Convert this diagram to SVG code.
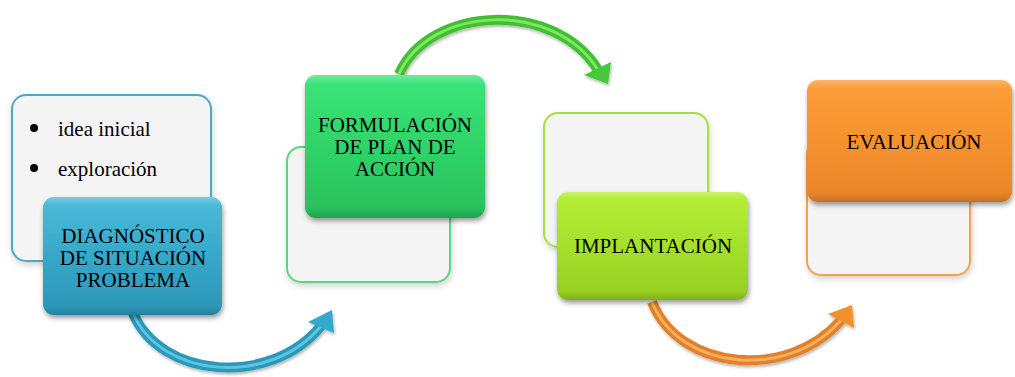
<svg xmlns="http://www.w3.org/2000/svg" width="1015" height="377" viewBox="0 0 1015 377">
<style>
.back{fill:#f4f4f4;stroke-width:2}
.title{font-family:'Liberation Serif','DejaVu Serif',serif;font-size:21px;fill:#000;text-anchor:middle}
.item{font-family:'Liberation Serif','DejaVu Serif',serif;font-size:21px;fill:#000}
.shine{fill:url(#shine)}
</style>
<defs>
<filter id="sh" x="-20%" y="-20%" width="140%" height="150%"><feDropShadow dx="1" dy="3" stdDeviation="2.5" flood-color="#000" flood-opacity="0.4"/></filter>
<filter id="shl" x="-20%" y="-20%" width="140%" height="150%"><feDropShadow dx="1" dy="3" stdDeviation="3" flood-color="#000" flood-opacity="0.18"/></filter>
<filter id="sha" x="-20%" y="-20%" width="140%" height="150%"><feDropShadow dx="1" dy="2" stdDeviation="1.5" flood-color="#000" flood-opacity="0.3"/></filter>
<linearGradient id="gBlue" x1="0" y1="0" x2="0" y2="1"><stop offset="0" stop-color="#4cbcd9"/><stop offset="0.5" stop-color="#36a8c8"/><stop offset="1" stop-color="#2c95b6"/></linearGradient>
<linearGradient id="gGreen" x1="0" y1="0" x2="0" y2="1"><stop offset="0" stop-color="#3ae57a"/><stop offset="0.5" stop-color="#2fd468"/><stop offset="1" stop-color="#28bf5d"/></linearGradient>
<linearGradient id="gLime" x1="0" y1="0" x2="0" y2="1"><stop offset="0" stop-color="#b6ee36"/><stop offset="0.5" stop-color="#a6e02c"/><stop offset="1" stop-color="#95cc22"/></linearGradient>
<linearGradient id="gOrange" x1="0" y1="0" x2="0" y2="1"><stop offset="0" stop-color="#fb9f3a"/><stop offset="0.5" stop-color="#f6922e"/><stop offset="1" stop-color="#e8842a"/></linearGradient>
<linearGradient id="shine" x1="0" y1="0" x2="0" y2="1"><stop offset="0" stop-color="#fff" stop-opacity="0.25"/><stop offset="0.07" stop-color="#fff" stop-opacity="0"/><stop offset="0.92" stop-color="#000" stop-opacity="0"/><stop offset="1" stop-color="#000" stop-opacity="0.15"/></linearGradient>
</defs>

<g id="connectors">
  <g id="arrow-blue" filter="url(#sha)">
    <path d="M133,313 C160,378 270,388 321,326" fill="none" stroke="#2b98bb" stroke-width="10"/>
    <path d="M133,313 C160,378 270,388 321,326" fill="none" stroke="#6ad0ea" stroke-width="3" opacity="0.8"/>
    <polygon points="332,310 308,322 334,333" fill="#36a9cb"/>
  </g>
  <g id="arrow-green" filter="url(#sha)">
    <path d="M399,74 C430,5 555,0 598,70" fill="none" stroke="#3fbf30" stroke-width="10"/>
    <path d="M399,74 C430,5 555,0 598,70" fill="none" stroke="#8ef070" stroke-width="3" opacity="0.8"/>
    <polygon points="584,75 611,62 608,84" fill="#47c83a"/>
  </g>
  <g id="arrow-orange" filter="url(#sha)">
    <path d="M652,302 C680,372 790,380 841,320" fill="none" stroke="#e2802a" stroke-width="10"/>
    <path d="M652,302 C680,372 790,380 841,320" fill="none" stroke="#fbbb6a" stroke-width="3" opacity="0.8"/>
    <polygon points="852,305 828,314 854,328" fill="#f0912f"/>
  </g>
</g>

<g id="node-diagnostico">
  <rect class="back" x="12" y="95" width="199" height="166" rx="14" stroke="#4ea9c6" filter="url(#shl)"/>
  <circle cx="34" cy="128" r="4"/>
  <text class="item" x="58" y="136">idea inicial</text>
  <circle cx="34" cy="168" r="4"/>
  <text class="item" x="58" y="176">exploración</text>
  <rect x="43" y="197" width="179" height="118" rx="11" fill="url(#gBlue)" filter="url(#sh)"/>
  <rect class="shine" x="43" y="197" width="179" height="118" rx="11"/>
  <text class="title" x="133" y="243">DIAGNÓSTICO</text>
  <text class="title" x="133" y="265">DE SITUACIÓN</text>
  <text class="title" x="133" y="287">PROBLEMA</text>
</g>

<g id="node-formulacion">
  <rect class="back" x="287" y="147" width="163" height="135" rx="14" stroke="#5cd67c" filter="url(#shl)"/>
  <rect x="305" y="75" width="180" height="143" rx="11" fill="url(#gGreen)" filter="url(#sh)"/>
  <rect class="shine" x="305" y="75" width="180" height="143" rx="11"/>
  <text class="title" x="395" y="132">FORMULACIÓN</text>
  <text class="title" x="395" y="154">DE PLAN DE</text>
  <text class="title" x="395" y="176">ACCIÓN</text>
</g>

<g id="node-implantacion">
  <rect class="back" x="544" y="113" width="164" height="134" rx="14" stroke="#a6df3e" filter="url(#shl)"/>
  <rect x="557" y="192" width="191" height="108" rx="11" fill="url(#gLime)" filter="url(#sh)"/>
  <rect class="shine" x="557" y="192" width="191" height="108" rx="11"/>
  <text class="title" x="653" y="253">IMPLANTACIÓN</text>
</g>

<g id="node-evaluacion">
  <rect class="back" x="807" y="140" width="163" height="135" rx="14" stroke="#f5a050" filter="url(#shl)"/>
  <rect x="807" y="80" width="205" height="122" rx="11" fill="url(#gOrange)" filter="url(#sh)"/>
  <rect class="shine" x="807" y="80" width="205" height="122" rx="11"/>
  <text class="title" x="914" y="149">EVALUACIÓN</text>
</g>
</svg>
